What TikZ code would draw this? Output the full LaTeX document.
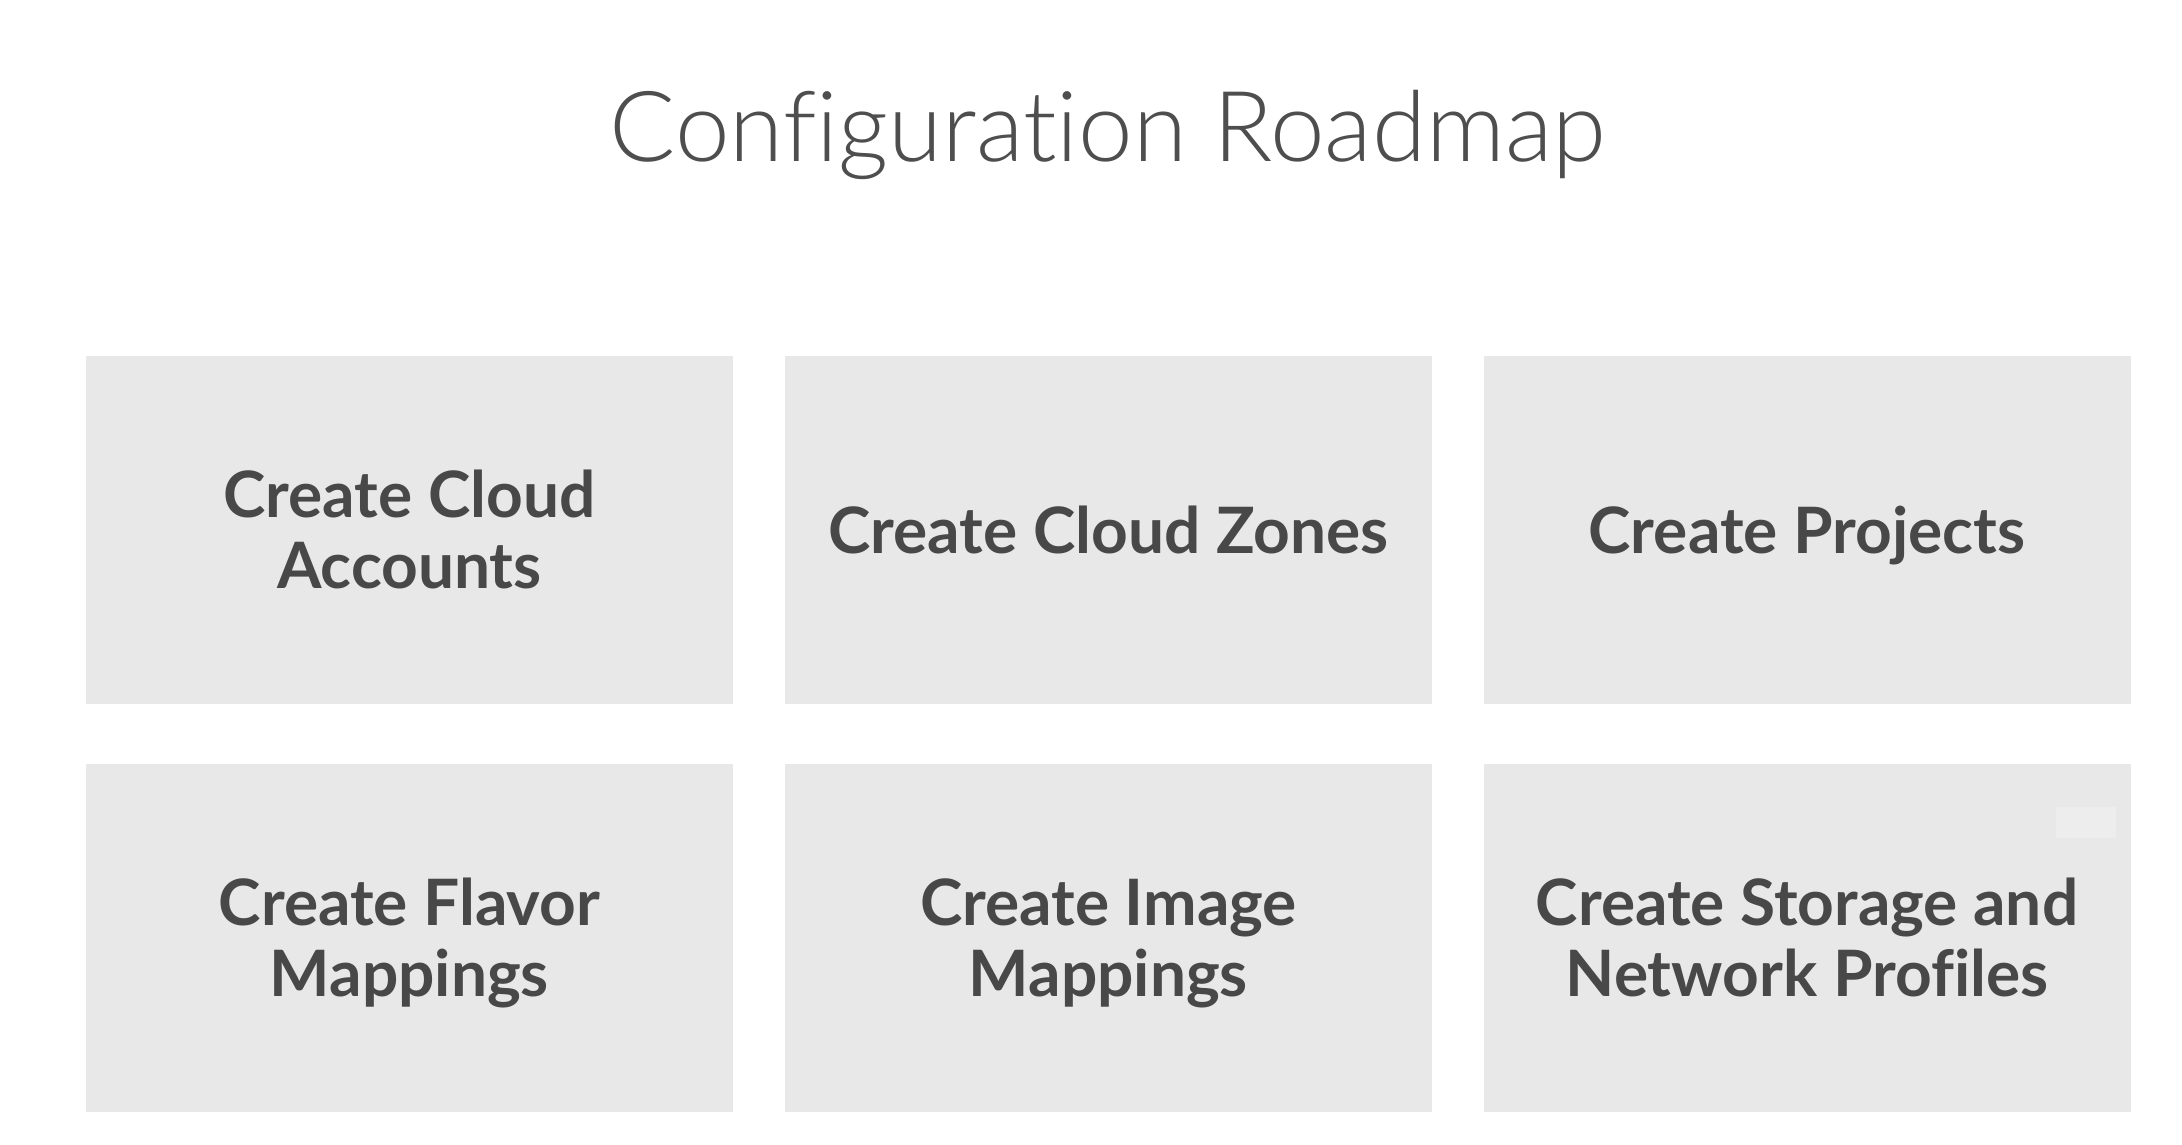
\documentclass[tikz,border=0pt]{standalone}
\usepackage{fontspec}
\setmainfont{Lato}
\newfontfamily\titlefont{Lato}[UprightFont=* Light, RawFeature=-liga]
\newfontfamily\boxfont{Lato}[UprightFont=* Bold, RawFeature=-liga]
\definecolor{boxgray}{HTML}{E8E8E8}
\definecolor{patchgray}{HTML}{EDEDED}
\definecolor{textgray}{HTML}{484848}
\definecolor{titlegray}{HTML}{4E4E4E}
\begin{document}
\begin{tikzpicture}[x=1pt,y=-1pt,
  box/.style={fill=boxgray, minimum width=647pt, minimum height=348pt, inner sep=0pt,
    align=center, text=textgray, font=\boxfont\fontsize{64}{71}\selectfont,
    text depth=0pt},
  oneline/.style={box, text height=46pt},
  twoline/.style={box, text height=117pt},
  patch/.style={fill=patchgray, minimum width=60pt, minimum height=31pt, inner sep=0pt}]
\fill[white] (0,0) rectangle (2182,1144);
\useasboundingbox (0,0) rectangle (2182,1144);
\node[anchor=base, text=titlegray, inner sep=0pt, font=\titlefont\fontsize{98}{120}\selectfont] (title) at (1108,161) {Configuration Roadmap};
\node[twoline] (b1) at (409.5,530) {Create Cloud\\Accounts};
\node[oneline] (b2) at (1108.5,530) {Create Cloud Zones};
\node[oneline] (b3) at (1807,530) {Create Projects};
\node[twoline] (b4) at (409.5,938) {Create Flavor\\Mappings};
\node[twoline] (b5) at (1108.5,938) {Create Image\\Mappings};
\node[twoline] (b6) at (1807,938) {Create Storage and\\Network Profiles};
\node[patch] (p6) at (2086,822.5) {};
\end{tikzpicture}
\end{document}
